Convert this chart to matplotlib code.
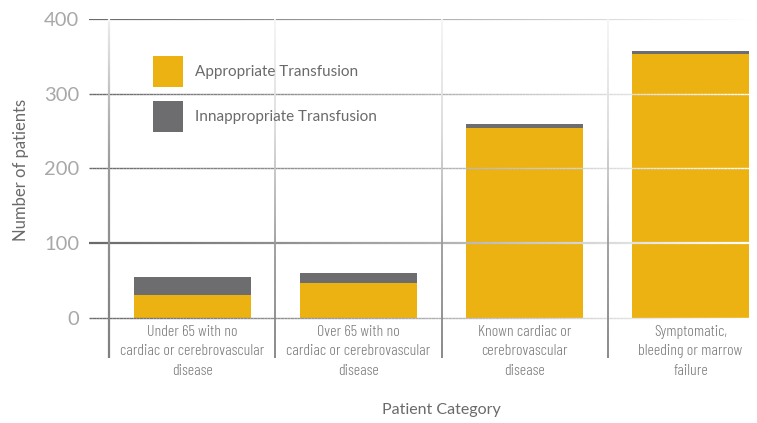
import numpy as np
import matplotlib
matplotlib.use('Agg')
import matplotlib.pyplot as plt
from matplotlib.collections import LineCollection
from matplotlib.colors import LinearSegmentedColormap

# data
categories = ['Under 65 with no\ncardiac or cerebrovascular\ndisease',
              'Over 65 with no\ncardiac or cerebrovascular\ndisease',
              'Known cardiac or\ncerebrovascular\ndisease',
              'Symptomatic,\nbleeding or marrow\nfailure']
appropriate = [30, 46, 254, 353]
inappropriate = [25, 14, 5, 4]
yticks = [0, 100, 200, 300, 400]

YELLOW = '#ECB211'
GREY = '#6D6D6F'

plt.rcParams['font.family'] = ['Lato', 'DejaVu Sans']

fig = plt.figure(figsize=(7.57, 4.23), dpi=100)
ax = fig.add_axes([89 / 757, 65 / 423, 668 / 757, 339 / 423])
ax.set_xlim(-0.623, 3.40)
ax.set_ylim(-54, 400)

x = np.arange(len(categories))
ax.bar(x, appropriate, width=0.705, color=YELLOW, zorder=2,
       label='Appropriate Transfusion')
ax.bar(x, inappropriate, bottom=appropriate, width=0.705, color=GREY, zorder=2,
       label='Innappropriate Transfusion')

# horizontal grid lines fading to white on the right
hcmap = LinearSegmentedColormap.from_list('h', ['#6a6a6c', '#adadad', '#ffffff'])
xs = np.linspace(-0.623, 3.40, 200)
for y in yticks:
    segs = [[(xs[i], y), (xs[i + 1], y)] for i in range(len(xs) - 1)]
    t = np.linspace(0, 1, len(segs))
    lw = 1.6 if y in (100, 400) else 1.0
    lc = LineCollection(segs, colors=hcmap(t), linewidths=lw, zorder=3)
    ax.add_collection(lc)

# vertical separators, light at the top, darker at the bottom
vcmap = LinearSegmentedColormap.from_list('v', ['#f4f4f4', '#d8d8d8', '#9a9a9a', '#808080'])
ys = np.linspace(400, -54, 120)
for xv in np.arange(len(categories)) - 0.5:
    segs = [[(xv, ys[i]), (xv, ys[i + 1])] for i in range(len(ys) - 1)]
    t = np.linspace(0, 1, len(segs))
    if xv < 0:
        t = t ** 0.5
    lw = 1.6 if xv < 0 else 1.3
    lc = LineCollection(segs, colors=vcmap(t), linewidths=lw, zorder=3)
    ax.add_collection(lc)

for s in ax.spines.values():
    s.set_visible(False)
ax.set_xticks([])
ax.set_yticks(yticks)
ax.tick_params(axis='y', length=0, pad=7, labelsize=14.5, labelcolor='#a8a8a8')

for i, lab in enumerate(categories):
    ax.text(x[i], -9.5, lab, ha='center', va='top', fontsize=11.5, color='#7a7a7a',
            family=['Barlow Condensed', 'DejaVu Sans'], fontweight=300,
            linespacing=1.5)

ax.set_ylabel('Number of patients', fontsize=12, color='#6a6a6a', labelpad=0)
ax.yaxis.set_label_coords(-0.09, 0.555)
fig.text(441 / 757, 1 - 410 / 423, 'Patient Category', ha='center', va='center',
         fontsize=11.5, color='#6a6a6a')

leg = ax.legend(loc='upper left', bbox_to_anchor=(153 / 757, 1 - 56 / 423),
                bbox_transform=fig.transFigure, frameon=False, fontsize=11,
                handlelength=1.95, handleheight=2.74, handletextpad=0.8,
                labelspacing=0.92, borderpad=0, borderaxespad=0)
for t in leg.get_texts():
    t.set_color('#6a6a6a')

fig.savefig('out.png', dpi=100)
